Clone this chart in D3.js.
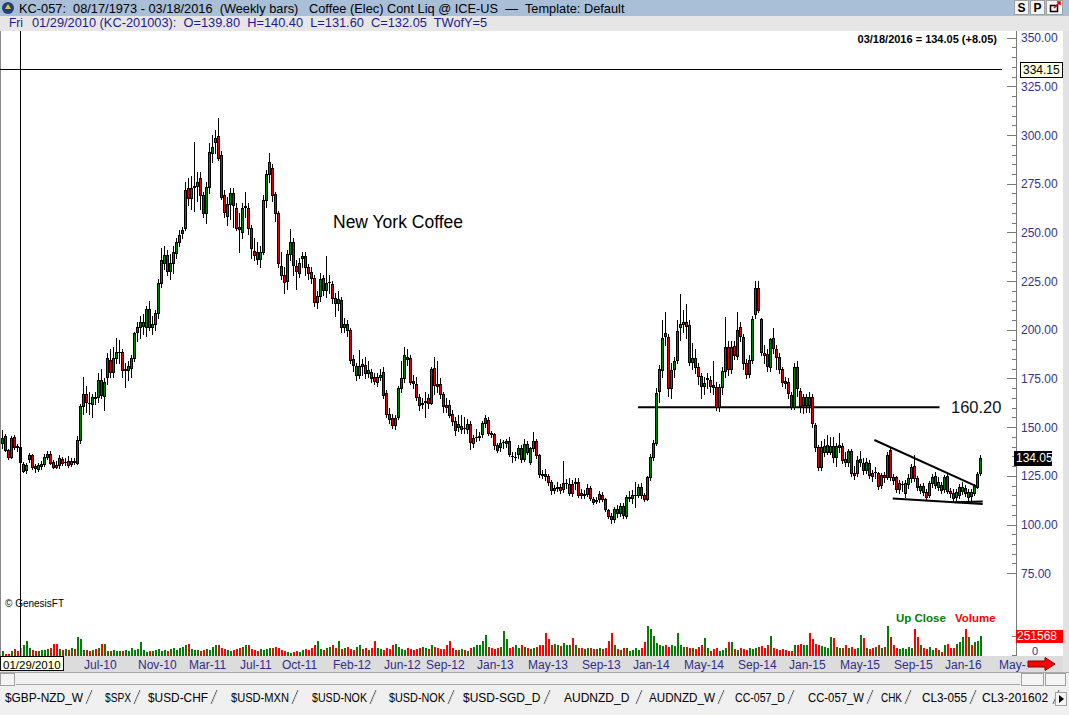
<!DOCTYPE html>
<html><head><meta charset="utf-8">
<script src="https://cdn.jsdelivr.net/npm/d3@7"></script>
<style>
body{margin:0;background:#fff;}
svg{display:block;font-family:"Liberation Sans",Arial,sans-serif;}
.pre{white-space:pre;}
</style>
</head><body>
<svg id="c" width="1069" height="715"></svg>
<script>
// ---------------- DATA ----------------
const firstWeek = "2009-12-18";   // Friday of first weekly bar
const cursorDate = "2010-01-29";
const opens = [
141.8,145.4,138.2,134.6,144.9,140.2,139.8,127.6,128,133.5,
135.6,129.8,128.5,130,131,134.6,136.1,132,130.8,130.5,
133.5,132,132.8,131,132.5,131.7,143.4,160.9,166.9,162.5,
161.9,165.5,165.6,174.1,166,175.6,184.5,178.5,185.4,188.4,
188.6,179.5,179.5,180.6,185.4,199,201.3,202,201.6,210.5,
201.3,203,208.5,224.2,234.4,238.4,230.3,234.4,239.2,245.2,
249.5,252.1,272.6,267.5,273.5,273.8,277.8,269.2,259.8,273.1,
290.6,296.6,299.5,289.7,269.2,258.4,264.4,270.4,262.3,252.6,
250,263,262.3,252.1,240.6,240.1,236.2,240.1,266.6,280,
282.9,269.5,259.8,232.7,228.1,225.2,238.9,244.9,232.7,229.3,
236.7,237.9,232,229.5,226.4,214.4,217.3,226.4,220.4,224.5,
223.5,216.1,213.9,215.3,201.6,203,199.9,184.8,176.8,177,
182.4,181.9,178,178.2,175.5,173.3,175.6,178.5,167.3,156.7,
154.5,151.1,155,169.9,175,186.2,185.3,173.8,172.1,165.6,
162,162.8,164.8,162.5,180.2,172.1,172.1,167,161.3,161.3,
156.7,153.3,149.9,149,149.6,148.9,151.6,141.7,144.8,145,
146.5,152.3,153.6,147.1,146.5,140.8,139.9,142.3,142,142.9,
135.4,134.6,136.2,139.1,133.4,141.6,132.2,139.1,142.9,135.7,
125.8,125.7,124.9,122,117.7,119,119.1,118,121.2,116.3,
120.8,121.5,122,116.3,115.1,115.8,118.5,112.9,112.3,112.9,
115.1,112.9,107.4,104.3,102.6,107.8,105.7,109.5,104.3,113.8,
113.4,115,115.1,119.1,115.1,112.9,124.2,134.5,141.7,168.7,
179.3,198.2,196.1,169.9,179.7,184.5,201.2,203,203.8,202.4,
183.6,185.3,180.7,176.2,171.1,174.6,174.2,171.6,170.8,160.2,
170.8,179,191,180,191.7,186.5,201.2,196.1,183.1,177.3,
184.5,208.1,221.3,205.3,188.1,187.5,181,195.6,190,185.8,
179.7,173.5,173.3,166.5,160.2,181,168.7,161.4,161.4,165.3,
165.3,151.1,139.6,129.3,137.4,137.4,137.4,140.3,134.8,139.6,
140.3,133.4,132.3,137.9,126.6,126.3,132.3,131.7,128,131.7,
126.3,127,126.3,120.3,125.4,124.2,138.2,124.5,124.2,118,
120.6,116.3,120.8,123.7,130,123.7,117.7,119.7,116.8,115.1,
121.1,124.9,119.4,120.3,118,124.9,117.4,116.3,114.3,115.1,
117.3,118.5,114.3,116.8,116.3,119.4,126.5];
const highs = [
148.5,146.5,139,145.5,146,141.5,140.4,132,131.5,136.5,
136,131,131.5,132.5,136,138,137.5,133,132.5,135.5,
134.5,134,135,134,134,145.5,162,175.7,171,168,
167,168,178,180,175,188,190,191,196,195,
190,183,184,187,199,204,207,208,212,215,
207,210,226,241.8,243,241,239,243,247,251,
253,276,278,279,296.6,281,281,271,276,296,
300,302.6,308.6,292,272,268,273,273,265,260,
265,271,265,254,247,245,243,269,282,290.6,
285,271,261,240,232,241,252,247,236,237,
240,240,234,232,228,220,229,228,238,228,
225,219,220,217,206,205,201,187,183,189.6,
185,186,184,180,178,178,180,181,169,160,
157,156,171,184,191,190,187,177,176,167,
165,168,167,181,186,184,175,168,165,164,
159,155,156,156,155,154,153,146,149,147.5,
153,156,155,148,147,142,144,143.5,144,145,
137,137,141,141,144,143,140,147.7,144,136,
128,128.5,126,123,120.5,122,121,132.5,123.5,124,
123,124,124,118,117.5,121,120,114,114,117,
116.5,113.5,108,106,109,110,111,111,115,117,
117.5,122,121,121.5,116,125,136,143.5,170,181.9,
205,209.3,198,183,186,205,218.4,210,213,205,
193,190,183,178,176,178,176.5,184,173,172,
181,206.7,194,194,194,209,204,198,185,187,
207,225.2,225.2,206,192,190,196,201,192,188,
181,176,175,168,183,184,170,167,167,168,
167,152,141,143,144,146,145,145,142,147,
142,137,139,139,130,135,137.5,134,134,133,
128,129.5,127,126.5,127,137,139.5,126,125,123,
122.5,123,126,131,135.5,125,121,121.5,118,122.5,
126,127,124.5,122,125.5,126.5,119,118,118,121,
122,120.5,118,118,121,127,135.5];
const lows = [
139.3,137.5,133.5,134,139,138,131.6,126.8,126.6,132,
128.5,127.2,127.5,128.5,130,133.5,131,129,128.8,129,
130.5,130.5,129.5,130,131,131,142,157,158,157,
155,162,163,165,159,172,176,176,183,183,
176,170.6,174,176,184,194,196,198,197,200,
198,200,206,222.1,231,228,226,229,237,243,
247,251,264,262,261,266,262,258,255,270,
286,291,287,267,258,254,257,253,251,240,
247,258,249,237,236,234,232,239,263,276,
266,256,232,226,219,221,236,228,221,227,
232,228,226,224,212,211,215,218,217,219,
214,207,210,199,199,197,183,179,174,175,
177,175,176,173,172,171,174,165,155,152,
149.5,149,154,168,173,182,172,170,164,159,
160,155,160,162,167,168,165,158,158,155,
151,146,148,147,147,147,139,140,143,143.5,
145,150,146,145,139,137,138,139.5,140,135,
132,133,134,132,132.5,136,131,138,134,124.5,
124,123,120.5,115.5,116,117,116,116.5,119,115,
114.5,118,114,113.5,113.5,114.5,112.5,110.5,111,111.5,
112,107,103.5,101,101.5,104,104.5,103.5,103.5,112,
111,109,114,113.5,112,112.5,123,133,141,163,
176,192,166,164.8,176,183,195,199,196,182,
180,178,172,165,167,170,168,167,159,158.5,
167,176,177,178,185,185,194,180,175,176,
183,206,209,187,183,179,179,188,180,178,
171,170,165,159.5,159.5,166,158,157.5,158,158,
150,138,128,128,135,136,136,132,130,137,
131.5,130,130,125,123.5,125,130,126,126.5,124,
122.5,124,118,118.5,122,123.5,123,121,116.5,116,
117,114,119,122,122.5,117.5,116,115,113,114,
119.5,118.5,117.5,116,116.5,116,114,111.5,112.5,113.5,
115.5,114.5,112,112.5,115,118.5,125.5];
const closes = [
144.4,138.2,134.6,144.4,139.8,139.8,132.05,131,130.5,135.6,
129.5,128.9,130.5,131,134.6,136.1,131.4,129.5,129.7,134.3,
131.8,132.3,130.5,132.8,132.2,143.4,160.9,166.9,162.9,162.2,
165.3,165,174.1,166.4,173.3,185.4,178.5,185.4,188.6,188.6,
179.5,179.8,181.3,185.4,198.2,201.3,204.1,204.2,210.5,201.6,
203,208.5,224,235.8,238.4,230.3,234.4,240.1,245.2,248.7,
251.2,271.8,267.5,272.6,273.8,276,269.2,259.8,273.1,291.5,
293.7,298.3,288,268.3,260.6,264.4,270.4,264,252.4,252,
262.3,263.5,252.1,241.8,238.4,236.5,240.1,266.6,280,286,
269.2,259.8,234.1,228.1,224.7,238.9,244.9,233.2,230.3,234.1,
237.9,232,229,226.4,214.4,217.3,226.1,220.4,224.2,224.7,
216.1,213.9,215.6,201.2,203,199.9,184.5,181.9,181.4,181.5,
181.4,177.6,179.5,175,173.8,175.9,176.8,166.5,156.7,154,
151.1,154.5,169.9,175,187,184.8,173.3,172.5,165.3,161.3,
162.5,163.3,162.5,179.7,171.6,171.1,167,160.8,160.1,156.2,
153.3,148.5,151.6,150.5,149.4,151.6,142.5,144.5,145.1,145.3,
152.3,154.5,146.8,146.5,140.8,138.2,142,142.5,142.9,136.2,
135.2,134.8,139.1,133.4,141.3,137.4,139.1,142.9,135.7,125.7,
125.5,124.9,122,117.7,118.9,119.1,117.7,121.1,121.4,120.8,
116.3,121.9,115.1,115.1,115.8,118.5,113.4,111.7,112.6,115.6,
112.9,107.8,104.3,102.6,107.8,105.7,109.5,104.8,113.9,113.9,
115.1,115.3,119.1,115.1,112.9,124.2,134.5,141.7,167.7,179.7,
195.6,197,169.9,179.3,184.1,199.4,203,203.8,201.9,183.6,
185.5,181,176.2,171.1,172.8,175,171.1,170.8,160.2,170.8,
179,191,180,191.3,187,199.9,196.8,183.1,177.3,184.5,
205.3,221.3,210.1,188.7,187.2,181.4,195.1,190.5,186.2,179.7,
173.3,172.8,167.3,160.2,181,170,160.9,165.3,165.3,161.4,
151.9,139.6,129.3,139.6,140.3,140.8,140.3,134.8,140.3,140.8,
133.1,132.3,137.9,126.3,125.4,133.1,133.4,128,132.3,125.4,
124.9,127.1,119.7,125.4,124.2,135.7,124.2,122.8,118,121.1,
120.8,121.5,123.7,129.7,123.7,119.4,119.7,116.8,114.3,121.1,
124.5,120.3,122,117.7,124.5,117.4,116.3,113.4,116.8,119.4,
119.5,116,116.8,114.6,119.7,126,134.05];
// weekly volume, thousands of contracts
const volumes = [
70,30,30,70,95,70,110,140,205,110,
85,70,70,85,85,95,110,165,165,95,
85,95,85,110,95,250,220,85,85,70,
85,95,110,165,165,70,70,85,70,70,
70,85,70,110,85,95,180,85,55,70,
70,85,95,70,85,70,95,110,85,110,
125,150,165,95,85,85,70,85,95,85,
125,140,140,110,95,85,70,85,95,110,
125,140,150,95,85,70,95,85,95,110,
110,125,110,85,70,55,40,55,70,55,
85,95,85,110,150,195,95,85,110,125,
140,110,195,95,110,125,95,85,125,140,
95,110,85,110,195,110,95,85,110,95,
140,165,125,95,85,110,95,85,95,110,
125,110,95,140,125,110,95,95,140,195,
110,85,85,95,85,70,110,125,140,140,
195,275,125,110,95,110,125,330,220,110,
125,140,110,140,125,110,95,110,125,140,
140,300,220,150,160,140,130,170,150,140,
235,150,110,100,95,110,100,95,90,100,
95,110,205,300,140,95,80,110,110,70,
85,100,80,110,180,400,360,260,170,140,
130,140,120,140,130,300,150,125,120,110,
110,95,120,140,235,110,70,95,110,70,
85,110,180,180,95,85,110,95,85,110,
95,110,120,130,110,140,260,110,95,85,
95,85,70,60,150,150,160,150,140,300,
220,160,150,130,125,110,250,235,125,110,
110,140,110,125,95,110,275,235,110,95,
110,125,140,110,125,400,250,140,110,95,
110,95,125,110,360,250,140,110,95,125,
85,110,85,55,140,165,110,100,165,180,
250,360,250,140,180,200,260];
const priceTicks = [75,100,125,150,175,200,225,250,275,300,325,350];
const monthLabels = ["Jul-10","Nov-10","Mar-11","Jul-11","Oct-11","Feb-12","Jun-12","Sep-12","Jan-13",
  "May-13","Sep-13","Jan-14","May-14","Sep-14","Jan-15","May-15","Sep-15","Jan-16","May-16"];
const cursorPrice = 334.15;
const supportLevel = 160.20;
const supportSpan = [213, 313.5];          // bar indices
const trendLines = [                        // [barIndex, price]
  [[291.8,143.4],[325.7,119.7]],
  [[297.9,113.4],[327.9,110.6]],
  [[318.5,111.4],[327.9,111.8]]
];
const volRef = 251568;
const tabs = ["$GBP-NZD_W","$SPX","$USD-CHF","$USD-MXN","$USD-NOK","$USD-NOK","$USD-SGD_D",
  "AUDNZD_D","AUDNZD_W","CC-057_D","CC-057_W","CHK","CL3-055","CL3-201602"];

// ---------------- LAYOUT (window chrome) ----------------
const tabTextX = [5,105,148,231,312,389,463,564,649,735,808,881,922,982];
const tabSepX  = [89,137,214,295,373,451,547,639,721,791,870,908,973,1056];

// ---------------- DRAW ----------------
const svg = d3.select("#c");
const W = 1069, H = 715;
const plotTop = 31, plotBottom = 656, axisX = 1016.5;
const DAY = 864e5;
const t0 = new Date(firstWeek + "T00:00:00Z");
const n = closes.length;
const bars = closes.map((c, k) => ({i: k + 1, o: opens[k], h: highs[k], l: lows[k], c: c, v: volumes[k] * 1000}));

const x = d3.scaleLinear().domain([1, n]).range([2, 2 + 3 * (n - 1)]);
const y = d3.scaleLinear().domain([75, 350]).range([573.2, 37.7]);
const yv = d3.scaleLinear().domain([0, volRef]).range([plotBottom, 637]);
const cx = i => Math.round(x(i));
const GREEN = "#008000", RED = "#dd0000";

// backgrounds
svg.append("rect").attr("width", W).attr("height", H).attr("fill", "#f0f0f0");
svg.append("rect").attr("x", 0).attr("y", 0).attr("width", W).attr("height", 16).attr("fill", "#a9bed7");
svg.append("rect").attr("x", 0).attr("y", 16).attr("width", W).attr("height", plotTop - 16).attr("fill", "#e6e6e6");
svg.append("rect").attr("x", 0).attr("y", plotTop).attr("width", 1063).attr("height", plotBottom - plotTop).attr("fill", "#fff");
svg.append("rect").attr("x", 1063).attr("y", plotTop).attr("width", 6).attr("height", 655).attr("fill", "#e2e2e2");
svg.append("line").attr("x1", 0.5).attr("x2", 0.5).attr("y1", plotTop).attr("y2", plotBottom).attr("stroke", "#8a8a8a");

// title
svg.append("circle").attr("cx", 8).attr("cy", 8).attr("r", 6).attr("fill", "#23407c");
svg.append("path").attr("d", "M5,9 L8,4 L11,9 Z").attr("fill", "#e8c040");
svg.append("text").attr("class", "pre").attr("x", 19).attr("y", 12.5).attr("font-size", 12.8).attr("fill", "#000")
  .text("KC-057:  08/17/1973 - 03/18/2016  (Weekly bars)   Coffee (Elec) Cont Liq @ ICE-US  \u2014  Template: Default");
[["S", 1014], ["P", 1030]].forEach(([t, bx]) => {
  svg.append("rect").attr("x", bx + 0.5).attr("y", 0.5).attr("width", 14).attr("height", 14).attr("fill", "#f4f4f4").attr("stroke", "#a0a0a0");
  svg.append("text").attr("x", bx + 7.5).attr("y", 12).attr("text-anchor", "middle").attr("font-size", 12).attr("font-weight", "bold").text(t);
});
svg.append("rect").attr("x", 1046.5).attr("y", 0.5).attr("width", 16).attr("height", 14).attr("fill", "#f4f4f4").attr("stroke", "#a0a0a0");
svg.append("rect").attr("x", 1050.5).attr("y", 5.5).attr("width", 7).attr("height", 6).attr("fill", "none").attr("stroke", "#000").attr("stroke-width", 1.5);
svg.append("path").attr("d", "M1054,8 L1060,2 M1057,2 L1060,2 L1060,5").attr("stroke", "#e00000").attr("stroke-width", 1.5).attr("fill", "none");

// info line
const bar7 = bars[6];
svg.append("text").attr("x", 9).attr("y", 27).attr("font-size", 12).attr("fill", "#1c1c8c").text("Fri");
svg.append("text").attr("class", "pre").attr("x", 32).attr("y", 27).attr("font-size", 12.8).attr("fill", "#1c1c8c")
  .text(`01/29/2010 (KC-201003):  O=${bar7.o.toFixed(2)}  H=${bar7.h.toFixed(2)}  L=${bar7.l.toFixed(2)}  C=${bar7.c.toFixed(2)}  TWofY=5`);

// last-value line
const last = bars[n - 1], prev = bars[n - 2];
svg.append("text").attr("x", 997).attr("y", 43).attr("text-anchor", "end").attr("font-size", 11).attr("font-weight", "bold")
  .text(`03/18/2016 = ${last.c.toFixed(2)} (+${(last.c - prev.c).toFixed(2)})`);

// price axis
const ga = svg.append("g").attr("shape-rendering", "crispEdges");
ga.append("line").attr("x1", axisX).attr("x2", axisX).attr("y1", plotTop).attr("y2", plotBottom).attr("stroke", "#7a7a7a");
const minor = d3.range(75, 351, 5);
ga.selectAll("line.mt").data(minor).join("line")
  .attr("x1", d => d % 25 === 0 ? 1007 : 1012).attr("x2", axisX)
  .attr("y1", d => Math.round(y(d)) + 0.5).attr("y2", d => Math.round(y(d)) + 0.5)
  .attr("stroke", "#7a7a7a");
svg.selectAll("text.pt").data(priceTicks).join("text")
  .attr("x", 1021).attr("y", d => y(d) + 4.5).attr("font-size", 12).attr("fill", "#33338f")
  .text(d3.format(".2f"));

// volume axis ticks
[0, volRef].forEach(v => ga.append("line").attr("x1", 1012).attr("x2", axisX)
  .attr("y1", Math.round(yv(v)) - 0.5).attr("y2", Math.round(yv(v)) - 0.5).attr("stroke", "#7a7a7a"));
svg.append("text").attr("x", 1032).attr("y", 655).attr("font-size", 11).attr("fill", "#33338f").text("0");

// volume bars
const vg = svg.append("g").attr("shape-rendering", "crispEdges");
vg.selectAll("rect").data(bars).join("rect")
  .attr("x", d => cx(d.i)).attr("width", 2)
  .attr("y", d => Math.round(yv(d.v))).attr("height", d => plotBottom - Math.round(yv(d.v)))
  .attr("fill", d => d.i === 7 ? "#3cc8dc" : (d.c >= d.o ? GREEN : "#ff0000"));

// support line and label
svg.append("line").attr("x1", x(supportSpan[0])).attr("x2", x(supportSpan[1]))
  .attr("y1", y(supportLevel)).attr("y2", y(supportLevel)).attr("stroke", "#000").attr("stroke-width", 2);
svg.append("text").attr("x", 951).attr("y", y(supportLevel) + 6).attr("font-size", 16.5).attr("fill", "#111")
  .text(supportLevel.toFixed(2));

// trend lines
svg.selectAll("line.tl").data(trendLines).join("line")
  .attr("x1", d => x(d[0][0])).attr("y1", d => y(d[0][1]))
  .attr("x2", d => x(d[1][0])).attr("y2", d => y(d[1][1]))
  .attr("stroke", "#000").attr("stroke-width", 2);

// candles
const cg = svg.append("g").attr("shape-rendering", "crispEdges");
cg.selectAll("line.w").data(bars).join("line")
  .attr("x1", d => cx(d.i) + 0.5).attr("x2", d => cx(d.i) + 0.5)
  .attr("y1", d => Math.round(y(d.h))).attr("y2", d => Math.round(y(d.l)) + 1)
  .attr("stroke", "#000");
const bt = d => Math.round(y(Math.max(d.o, d.c)));
const bb = d => Math.round(y(Math.min(d.o, d.c)));
cg.selectAll("rect.b").data(bars).join("rect")
  .attr("x", d => cx(d.i) - 1).attr("width", 3)
  .attr("y", bt).attr("height", d => bb(d) - bt(d) + 1).attr("fill", "#000");
cg.selectAll("rect.f").data(bars.filter(d => bb(d) - bt(d) > 1)).join("rect")
  .attr("x", d => cx(d.i)).attr("width", 1)
  .attr("y", d => bt(d) + 1).attr("height", d => bb(d) - bt(d) - 1)
  .attr("fill", d => d.c >= d.o ? GREEN : RED);

// cursor cross-hair
const cursorIdx = 1 + Math.round((new Date(cursorDate + "T00:00:00Z") - t0) / (7 * DAY));
svg.append("line").attr("x1", 0).attr("x2", 1002).attr("y1", Math.round(y(cursorPrice)) + 0.5).attr("y2", Math.round(y(cursorPrice)) + 0.5)
  .attr("stroke", "#000").attr("shape-rendering", "crispEdges");
svg.append("line").attr("x1", cx(cursorIdx) + 0.5).attr("x2", cx(cursorIdx) + 0.5).attr("y1", plotTop).attr("y2", plotBottom)
  .attr("stroke", "#000").attr("shape-rendering", "crispEdges");

// texts in plot
svg.append("text").attr("x", 333).attr("y", 228).attr("font-size", 17.5).attr("fill", "#000").text("New York Coffee");
svg.append("text").attr("x", 5).attr("y", 607).attr("font-size", 10).attr("fill", "#000").text("\u00a9 GenesisFT");
svg.append("text").attr("x", 896).attr("y", 622).attr("font-size", 11.5).attr("font-weight", "bold").attr("fill", GREEN).text("Up Close");
svg.append("text").attr("x", 955).attr("y", 622).attr("font-size", 11.5).attr("font-weight", "bold").attr("fill", "#ff0000").text("Volume");

// axis value boxes
function box(bx, by, w, h, fill, stroke, txt, col, tx, fs) {
  svg.append("rect").attr("x", bx + 0.5).attr("y", by + 0.5).attr("width", w).attr("height", h)
    .attr("fill", fill).attr("stroke", stroke).attr("shape-rendering", "crispEdges");
  svg.append("text").attr("x", tx).attr("y", by + h / 2 + fs * 0.37).attr("font-size", fs).attr("fill", col).text(txt);
}
box(1020, Math.round(y(cursorPrice)) - 7, 42, 15, "#ffffe1", "#000", cursorPrice.toFixed(2), "#000", 1023, 12);
box(1014, Math.round(y(last.c)) - 7, 37, 14, "#000", "#000", last.c.toFixed(2), "#fff", 1016, 12);
box(1016, Math.round(yv(volRef)) - 7, 46, 12, "#ff0000", "#ff0000", String(volRef), "#fff", 1017, 12);

// x axis band
svg.append("rect").attr("x", 0).attr("y", plotBottom).attr("width", 1063).attr("height", 16).attr("fill", "#dcdcdc");
svg.append("clipPath").attr("id", "xclip").append("rect").attr("x", 64).attr("y", plotBottom).attr("width", 963).attr("height", 16);
const xl = svg.append("g").attr("clip-path", "url(#xclip)");
const monIdx = {Jan:0,Feb:1,Mar:2,Apr:3,May:4,Jun:5,Jul:6,Aug:7,Sep:8,Oct:9,Nov:10,Dec:11};
const labelIndex = lab => {
  const m = monIdx[lab.slice(0, 3)], yr = 2000 + +lab.slice(4);
  let d = new Date(Date.UTC(yr, m, 1));
  while (d.getUTCDay() !== 5) d = new Date(d.getTime() + DAY);
  return 1 + Math.round((d - t0) / (7 * DAY));
};
xl.selectAll("text").data(monthLabels).join("text")
  .attr("x", d => x(labelIndex(d)) - 2).attr("y", 668.5).attr("font-size", 12).attr("fill", "#2e2e8c").text(d => d);
svg.append("rect").attr("x", 0.5).attr("y", 656.5).attr("width", 63).attr("height", 14).attr("fill", "#ffffe1").attr("stroke", "#000").attr("shape-rendering", "crispEdges");
svg.append("text").attr("x", 3).attr("y", 668.5).attr("font-size", 11.5).attr("fill", "#000").text("01/29/2010");
svg.append("path").attr("d", "M1028,661 L1045,661 L1045,657.5 L1055,664 L1045,670.5 L1045,667 L1028,667 Z")
  .attr("fill", "#ff0000").attr("stroke", "#800000").attr("stroke-width", 1);

// scroll row
svg.append("rect").attr("x", 0).attr("y", 672).attr("width", W).attr("height", 14).attr("fill", "#f0f0f0");
svg.append("line").attr("x1", 0).attr("x2", W).attr("y1", 672.5).attr("y2", 672.5).attr("stroke", "#a8a8a8");
svg.append("line").attr("x1", 16).attr("x2", 1020).attr("y1", 684.5).attr("y2", 684.5).attr("stroke", "#a8a8a8");
svg.append("rect").attr("x", 0.5).attr("y", 673.5).attr("width", 14).attr("height", 12).attr("fill", "#f4f4f4").attr("stroke", "#a0a0a0");
svg.append("rect").attr("x", 1021.5).attr("y", 673.5).attr("width", 22).attr("height", 12).attr("fill", "#f4f4f4").attr("stroke", "#a0a0a0");
svg.append("rect").attr("x", 1045.5).attr("y", 673.5).attr("width", 20).attr("height", 12).attr("fill", "#f4f4f4").attr("stroke", "#a0a0a0");

// tabs
const tg = svg.append("g");
tabs.forEach((name, k) => {
  const t = tg.append("text").attr("x", tabTextX[k]).attr("y", 702).attr("font-size", 12).attr("fill", "#000").text(name);
  const natural = t.node().getComputedTextLength();
  const room = tabSepX[k] - 6 - tabTextX[k];
  if (natural > room) t.attr("textLength", room).attr("lengthAdjust", "spacingAndGlyphs");
  const sx = tabSepX[k];
  tg.append("line").attr("x1", sx - 3).attr("y1", 704).attr("x2", sx + 3).attr("y2", 690).attr("stroke", "#555");
  tg.append("line").attr("x1", sx - 2).attr("y1", 704).attr("x2", sx + 4).attr("y2", 690).attr("stroke", "#d8d8d8");
});
svg.append("rect").attr("x", 1055.5).attr("y", 692.5).attr("width", 11).attr("height", 13).attr("fill", "#f4f4f4").attr("stroke", "#a0a0a0");
svg.append("path").attr("d", "M1059,695 L1064,699 L1059,703 Z").attr("fill", "#000");
</script>
</body></html>
